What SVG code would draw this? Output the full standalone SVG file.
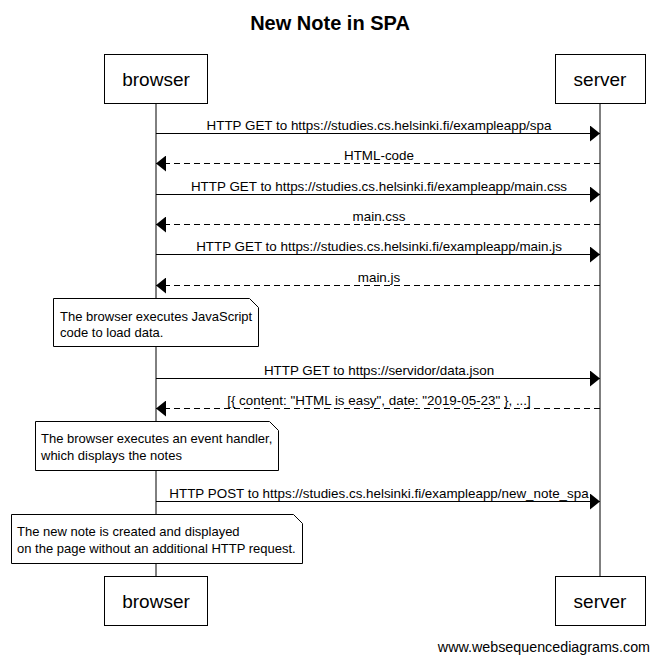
<svg xmlns="http://www.w3.org/2000/svg" width="660" height="659" viewBox="0 0 660 659">
<style>
text{font-family:"Liberation Sans",Arial,sans-serif;fill:#000}
.title{font-size:20px;font-weight:bold;text-anchor:middle}
.actor{font-size:19px;text-anchor:middle}
.msg{font-size:13.4px;text-anchor:middle}
.note{font-size:13px}
.foot{font-size:14.3px;text-anchor:end}
.box{fill:#fff;stroke:#000;stroke-width:1}
.life{stroke:#000;stroke-width:1}
.line{stroke:#000;stroke-width:1;fill:none}
.dash{stroke-dasharray:6,4}
</style>
<defs>
<marker id="ah" markerUnits="userSpaceOnUse" markerWidth="10" markerHeight="16" refX="10" refY="8" orient="auto">
<path d="M0,0 L10,8 L0,16 Z" fill="#000"/>
</marker>
</defs>
<rect width="660" height="659" fill="#fff"/>
<text class="title" x="330" y="30">New Note in SPA</text>
<g id="lifelines">
<line class="life" x1="156" y1="103" x2="156" y2="576"/>
<line class="life" x1="600" y1="103" x2="600" y2="576"/>
</g>
<g id="browser">
<rect class="box" x="104.5" y="54.5" width="103" height="49"/>
<text class="actor" x="156" y="86">browser</text>
<rect class="box" x="104.5" y="576.5" width="103" height="49"/>
<text class="actor" x="156" y="608">browser</text>
</g>
<g id="server">
<rect class="box" x="555.5" y="54.5" width="90" height="49"/>
<text class="actor" x="600" y="86">server</text>
<rect class="box" x="555.5" y="576.5" width="90" height="49"/>
<text class="actor" x="600" y="608">server</text>
</g>
<g id="connectors">
<line class="line" x1="156" y1="133.5" x2="600" y2="133.5" marker-end="url(#ah)"/>
<text class="msg" x="379" y="130">HTTP GET to https://studies.cs.helsinki.fi/exampleapp/spa</text>
<line class="line dash" x1="600" y1="163.5" x2="156" y2="163.5" marker-end="url(#ah)"/>
<text class="msg" x="379" y="160">HTML-code</text>
<line class="line" x1="156" y1="194.5" x2="600" y2="194.5" marker-end="url(#ah)"/>
<text class="msg" x="379" y="191">HTTP GET to https://studies.cs.helsinki.fi/exampleapp/main.css</text>
<line class="line dash" x1="600" y1="224.5" x2="156" y2="224.5" marker-end="url(#ah)"/>
<text class="msg" x="379" y="221">main.css</text>
<line class="line" x1="156" y1="254.5" x2="600" y2="254.5" marker-end="url(#ah)"/>
<text class="msg" x="379" y="251">HTTP GET to https://studies.cs.helsinki.fi/exampleapp/main.js</text>
<line class="line dash" x1="600" y1="285.5" x2="156" y2="285.5" marker-end="url(#ah)"/>
<text class="msg" x="379" y="282">main.js</text>
<line class="line" x1="156" y1="378.5" x2="600" y2="378.5" marker-end="url(#ah)"/>
<text class="msg" x="379" y="375">HTTP GET to https://servidor/data.json</text>
<line class="line dash" x1="600" y1="408.5" x2="156" y2="408.5" marker-end="url(#ah)"/>
<text class="msg" x="379" y="405">[{ content: "HTML is easy", date: "2019-05-23" }, ...]</text>
<line class="line" x1="156" y1="501.5" x2="600" y2="501.5" marker-end="url(#ah)"/>
<text class="msg" x="379" y="498">HTTP POST to https://studies.cs.helsinki.fi/exampleapp/new_note_spa</text>
</g>
<g id="note1">
<path class="box" d="M53.5,298.5 L249.5,298.5 L258.5,307.5 L258.5,346.5 L53.5,346.5 Z"/>
<text class="note" x="60" y="321">The browser executes JavaScript</text>
<text class="note" x="60" y="337">code to load data.</text>
</g>
<g id="note2">
<path class="box" d="M35.5,421.5 L269.5,421.5 L278.5,430.5 L278.5,470.5 L35.5,470.5 Z"/>
<text class="note" x="41" y="443">The browser executes an event handler,</text>
<text class="note" x="41" y="460">which displays the notes</text>
</g>
<g id="note3">
<path class="box" d="M11.5,514.5 L293.5,514.5 L302.5,523.5 L302.5,563.5 L11.5,563.5 Z"/>
<text class="note" x="17" y="536">The new note is created and displayed</text>
<text class="note" x="17" y="553">on the page without an additional HTTP request.</text>
</g>
<text class="foot" x="650" y="652">www.websequencediagrams.com</text>
</svg>
